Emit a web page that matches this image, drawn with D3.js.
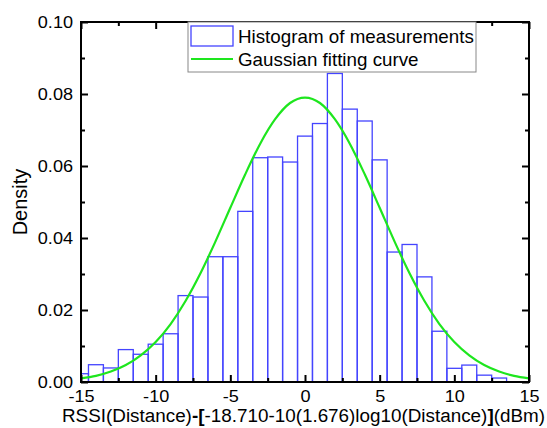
<!DOCTYPE html>
<html>
<head>
<meta charset="utf-8">
<style>
  body { margin: 0; background: #fff; }
  text { font-family: Arial, "Liberation Sans", sans-serif; }
</style>
<script src="https://cdn.jsdelivr.net/npm/d3@7"></script>
</head>
<body>
<svg id="chart" width="547" height="428"></svg>
<script>
// Histogram bins (bin centre, width 1) and densities
const binCenters = [-15, -14, -13, -12, -11, -10, -9, -8, -7, -6, -5, -4, -3, -2, -1, 0,
  1, 2, 3, 4, 5, 6, 7, 8, 9, 10, 11, 12, 13]
const densities = [0.0023, 0.0048, 0.0039, 0.0090, 0.0077, 0.0105, 0.0134, 0.0240, 0.0236,
  0.0348, 0.0348, 0.0474, 0.0623, 0.0625, 0.0611, 0.0683, 0.0718, 0.0857, 0.0758, 0.0725,
  0.0617, 0.0361, 0.0382, 0.0292, 0.0141, 0.0038, 0.0047, 0.0019, 0.0011]

// Gaussian fitting curve
const curveX = [-15, -14, -13, -12, -11, -10, -9, -8, -7, -6, -5, -4, -3, -2, -1, 0,
  1, 2, 3, 4, 5, 6, 7, 8, 9, 10, 11, 12, 13, 14, 15]
const curveY = [0.0010, 0.0017, 0.0029, 0.0047, 0.0074, 0.0111, 0.0161, 0.0225, 0.0302,
  0.0390, 0.0484, 0.0577, 0.0662, 0.0730, 0.0775, 0.0790, 0.0775, 0.0730, 0.0662, 0.0577,
  0.0484, 0.0390, 0.0302, 0.0225, 0.0161, 0.0111, 0.0074, 0.0047, 0.0029, 0.0017, 0.0010]

const xTicks = [-15, -10, -5, 0, 5, 10, 15]
const yTicks = [0, 0.02, 0.04, 0.06, 0.08, 0.10]
const legendLabels = ['Histogram of measurements', 'Gaussian fitting curve']

const binWidth = 1
const blue = '#4444ff'
const green = '#1ee61e'

const margin = {top: 22, right: 18, bottom: 46, left: 81}
const svg = d3.select('#chart')
const W = +svg.attr('width'), H = +svg.attr('height')
const iw = W - margin.left - margin.right
const ih = H - margin.top - margin.bottom

const x = d3.scaleLinear().domain([-15, 15]).range([0, iw])
const y = d3.scaleLinear().domain([0, 0.1]).range([ih, 0])

const g = svg.append('g').attr('transform', `translate(${margin.left},${margin.top})`)

g.append('clipPath').attr('id', 'clip')
  .append('rect').attr('width', iw).attr('height', ih)

// Bars
g.append('g').attr('clip-path', 'url(#clip)')
  .selectAll('rect')
  .data(binCenters.map((c, i) => ({c, d: densities[i]})))
  .join('rect')
  .attr('x', d => x(d.c - binWidth / 2))
  .attr('width', d => x(d.c + binWidth / 2) - x(d.c - binWidth / 2))
  .attr('y', d => y(d.d))
  .attr('height', d => y(0) - y(d.d))
  .attr('fill', 'none')
  .attr('stroke', blue)
  .attr('stroke-width', 1.3)

// Gaussian curve
const line = d3.line()
  .x(d => x(d[0]))
  .y(d => y(d[1]))
  .curve(d3.curveMonotoneX)
g.append('path')
  .datum(curveX.map((v, i) => [v, curveY[i]]))
  .attr('d', line)
  .attr('fill', 'none')
  .attr('stroke', green)
  .attr('stroke-width', 2.2)
  .attr('clip-path', 'url(#clip)')

// Axes: ticks pointing inward on all four sides
const xMinor = d3.range(-15, 15.01, 2.5).filter(v => !xTicks.includes(v))
const yMinor = d3.range(0.01, 0.1, 0.02)
g.append('g').attr('transform', `translate(0,${ih})`)
  .call(d3.axisBottom(x).tickValues(xTicks).tickSize(-7).tickPadding(8.5).tickFormat(d => String(d)))
g.append('g')
  .call(d3.axisTop(x).tickValues(xTicks).tickSize(-7).tickFormat(''))
g.append('g')
  .call(d3.axisLeft(y).tickValues(yTicks).tickSize(-7).tickPadding(8).tickFormat(d3.format('.2f')))
g.append('g').attr('transform', `translate(${iw},0)`)
  .call(d3.axisRight(y).tickValues(yTicks).tickSize(-7).tickFormat(''))
g.append('g').attr('transform', `translate(0,${ih})`)
  .call(d3.axisBottom(x).tickValues(xMinor).tickSize(-4).tickFormat(''))
g.append('g')
  .call(d3.axisTop(x).tickValues(xMinor).tickSize(-4).tickFormat(''))
g.append('g')
  .call(d3.axisLeft(y).tickValues(yMinor).tickSize(-4).tickFormat(''))
g.append('g').attr('transform', `translate(${iw},0)`)
  .call(d3.axisRight(y).tickValues(yMinor).tickSize(-4).tickFormat(''))
g.selectAll('.domain').remove()
g.selectAll('.tick line').attr('stroke', '#000').attr('stroke-width', 2)
g.selectAll('.tick text').attr('font-size', 16).attr('fill', '#000')
  .attr('font-family', 'Arial, "Liberation Sans", sans-serif')

// Frame
g.append('rect').attr('width', iw).attr('height', ih)
  .attr('fill', 'none').attr('stroke', '#000').attr('stroke-width', 2)

// Axis titles
const xt = svg.append('text')
  .attr('x', 303.5).attr('y', 422)
  .attr('text-anchor', 'middle').attr('font-size', 18)
xt.append('tspan').text('RSSI(Distance)')
xt.append('tspan').attr('font-weight', 'bold').text('-[')
xt.append('tspan').text('-18.710-10(1.676)log10(Distance)')
xt.append('tspan').attr('font-weight', 'bold').text(']')
xt.append('tspan').text('(dBm)')

svg.append('text')
  .attr('transform', `translate(27,202) rotate(-90)`)
  .attr('text-anchor', 'middle').attr('font-size', 20).text('Density')

// Legend
const lg = svg.append('g').attr('transform', 'translate(188,22)')
lg.append('rect').attr('width', 288).attr('height', 50)
  .attr('fill', '#fff').attr('stroke', '#888').attr('stroke-width', 1)
lg.append('rect').attr('x', 3).attr('y', 4).attr('width', 42).attr('height', 20)
  .attr('fill', '#fff').attr('stroke', blue).attr('stroke-width', 1.3)
lg.append('line').attr('x1', 3).attr('x2', 45).attr('y1', 37).attr('y2', 37)
  .attr('stroke', green).attr('stroke-width', 2.2)
const legendText = lg.selectAll('text.lab').data(legendLabels).join('text')
  .attr('class', 'lab')
  .attr('x', 50).attr('y', (d, i) => 21 + i * 22.5)
  .attr('font-size', 18.5).text(d => d)

// The reference's lettering is slightly wide: stretch text horizontally
const stretch = (sel, k) => sel.each(function () {
  if (this.textContent) this.setAttribute('textLength', this.getComputedTextLength() * k)
}).attr('lengthAdjust', 'spacingAndGlyphs')
stretch(g.selectAll('.tick text'), 1.13)
stretch(legendText, 1.015)
xt.attr('textLength', 483).attr('lengthAdjust', 'spacingAndGlyphs')
</script>
</body>
</html>
